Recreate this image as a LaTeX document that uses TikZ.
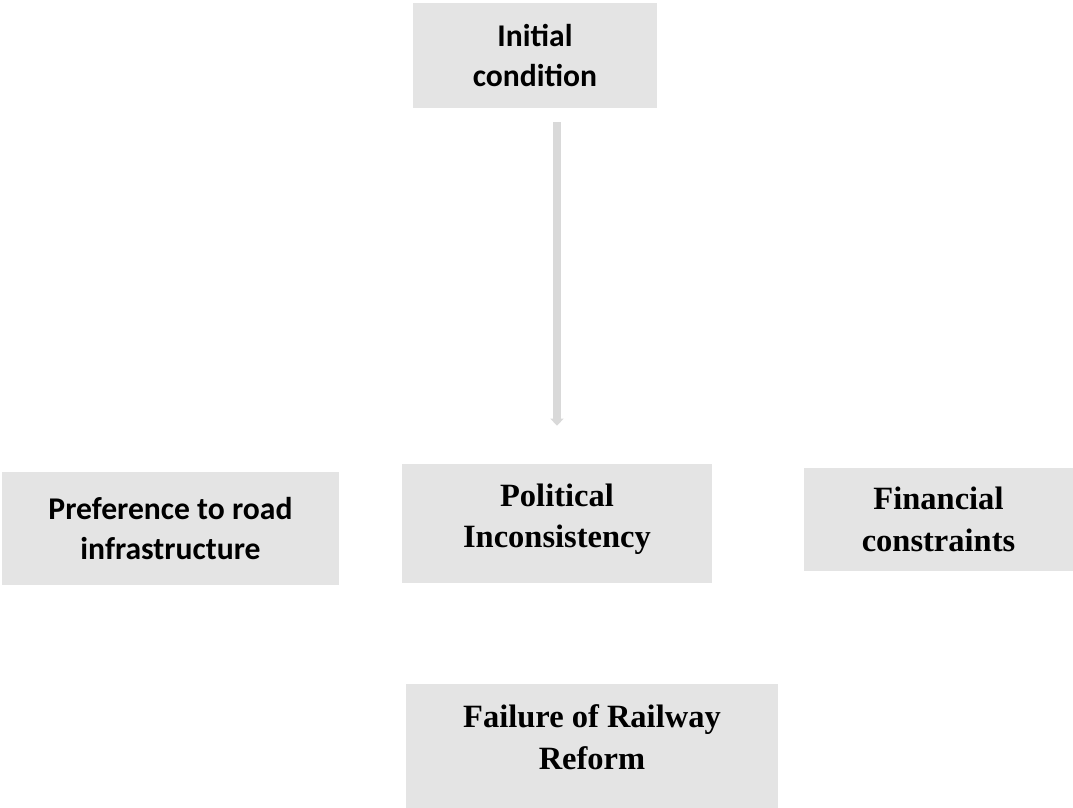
\documentclass[tikz,border=0pt]{standalone}
\usepackage{fontspec}
\setmainfont{Liberation Serif}
\newfontfamily\calfont{Carlito}
\usetikzlibrary{arrows.meta}
\definecolor{boxgray}{HTML}{E4E4E4}
\definecolor{arrowgray}{HTML}{D9D9D9}
\tikzset{
  box/.style={fill=boxgray, align=center, inner sep=0pt, font=\bfseries\fontsize{18.5}{23.5}\selectfont},
  sansbox/.style={box, font=\calfont\bfseries\fontsize{18}{22.5}\selectfont},
  flow/.style={draw=arrowgray, line width=4pt, -{Triangle[width=0.26cm, length=0.14cm]}}
}
\begin{document}
\begin{tikzpicture}[x=0.02cm, y=-0.02cm]
  \useasboundingbox (0,0) rectangle (1073,808);
  % Ausgangslage oben
  \node[sansbox, minimum width=4.88cm, minimum height=2.1cm] (init) at (535,55.5) {Initial\\condition};
  % die drei Ursachen
  \node[sansbox, minimum width=6.74cm, minimum height=2.26cm] (road) at (170.5,528.5) {Preference to road\\infrastructure};
  \node[box, minimum width=6.2cm, minimum height=2.38cm, text depth=0.3cm] (pol) at (557,523.5) {Political\\Inconsistency};
  \node[box, minimum width=5.38cm, minimum height=2.06cm] (fin) at (938.5,519.5) {Financial\\constraints};
  % Ergebnis unten
  \node[box, minimum width=7.44cm, minimum height=2.48cm, text depth=0.36cm] (fail) at (592,746) {Failure of Railway\\Reform};
  % Pfeil
  \draw[flow, shorten <=0.28cm, shorten >=0.76cm] (init.south -| pol.north) -- (pol.north);
\end{tikzpicture}
\end{document}
